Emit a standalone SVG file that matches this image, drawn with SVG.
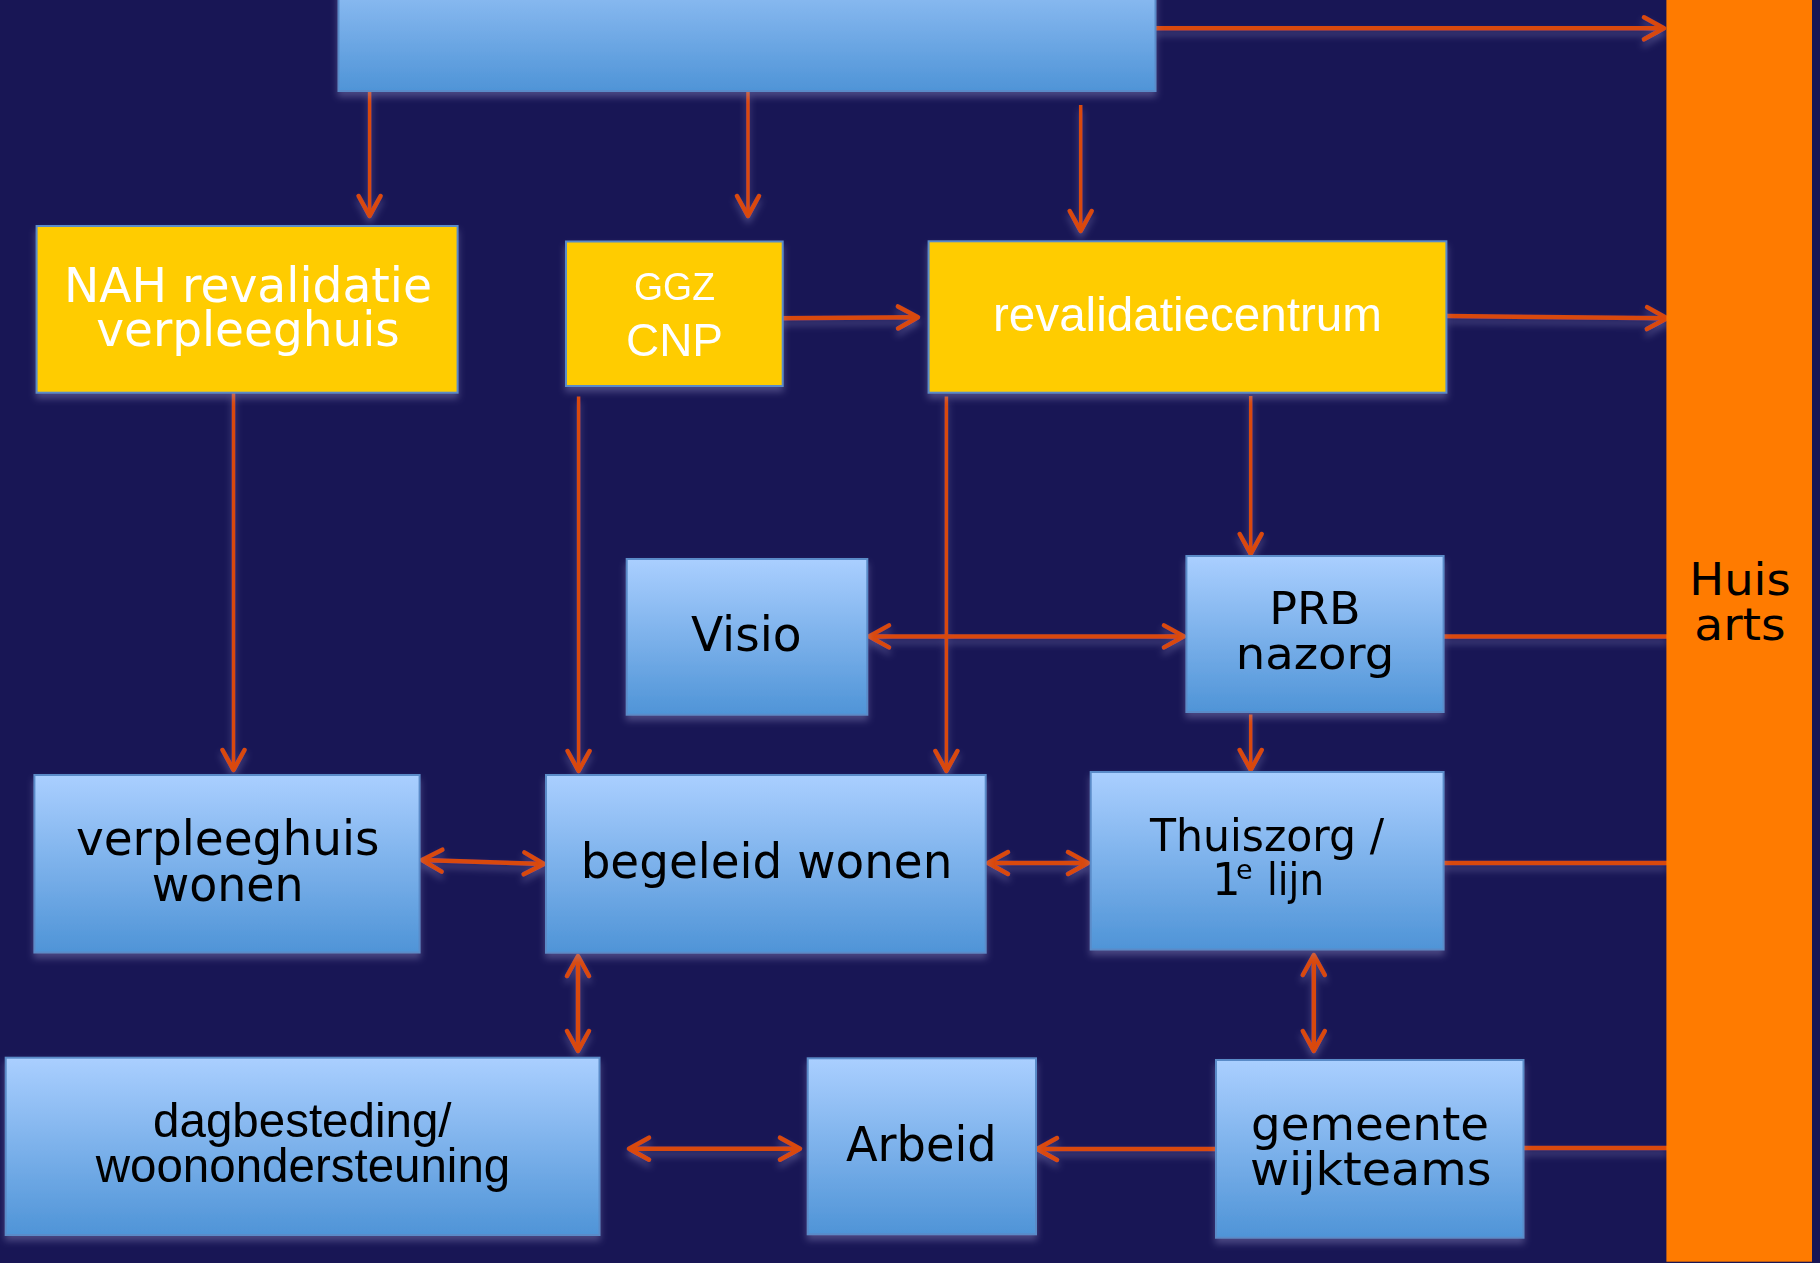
<svg xmlns="http://www.w3.org/2000/svg" width="1820" height="1263" viewBox="0 0 1820 1263">
  <style>
    .box { stroke: #5A8BC8; stroke-width: 2; }
    .blue { fill: url(#gBlue); }
    .yellow { fill: #FFCC00; }
    .t { font-family: "DejaVu Sans", sans-serif; text-anchor: middle; }
    .ta { font-family: "Liberation Sans", Arial, sans-serif; text-anchor: middle; }
    .w { fill: #FFFFFF; }
    .k { fill: #000000; }
    .c { stroke: #D9480B; stroke-width: 4.5; fill: none; }
    .cthin { stroke: #D9480B; stroke-width: 3.5; fill: none; }
    .end { marker-end: url(#ah); }
    .both { marker-start: url(#ah); marker-end: url(#ah); }
  </style>
  <defs>
    <linearGradient id="gBlue" x1="0" y1="0" x2="0" y2="1">
      <stop offset="0" stop-color="#AACFFF"/>
      <stop offset="1" stop-color="#4F94D7"/>
    </linearGradient>
    <filter id="sh" filterUnits="userSpaceOnUse" x="-20" y="-80" width="1860" height="1400">
      <feGaussianBlur in="SourceAlpha" stdDeviation="3.5" result="b"/>
      <feOffset in="b" dy="5" result="o"/>
      <feFlood flood-color="#A8A4D8" flood-opacity="0.35"/>
      <feComposite in2="o" operator="in" result="s"/>
      <feMerge>
        <feMergeNode in="s"/>
        <feMergeNode in="SourceGraphic"/>
      </feMerge>
    </filter>
    <marker id="ah" markerUnits="userSpaceOnUse" markerWidth="40" markerHeight="40" refX="0" refY="0" orient="auto-start-reverse" overflow="visible">
      <path d="M-20,-11 L0,0 L-20,11" fill="none" stroke="#D9480B" stroke-width="4.5" stroke-linecap="round" stroke-linejoin="round"/>
    </marker>
  </defs>

  <rect x="0" y="0" width="1820" height="1263" fill="#181655"/>

  <g id="connectors" filter="url(#sh)">
    <line class="cthin end" x1="369.6" y1="91" x2="369.6" y2="216"/>
    <line class="cthin end" x1="748" y1="91" x2="748" y2="216"/>
    <line class="cthin end" x1="1080.7" y1="105" x2="1080.7" y2="231"/>
    <line class="c end" x1="1156" y1="28.3" x2="1664" y2="28.3"/>
    <line class="c end" x1="778" y1="318.3" x2="918" y2="317.3"/>
    <line class="c end" x1="1447" y1="316" x2="1667" y2="318.3"/>
    <line class="cthin end" x1="233.5" y1="393" x2="233.5" y2="770"/>
    <line class="cthin end" x1="578.6" y1="396.5" x2="578.6" y2="771"/>
    <line class="cthin end" x1="946.4" y1="396.5" x2="946.4" y2="771"/>
    <line class="cthin end" x1="1250.7" y1="396" x2="1250.7" y2="554"/>
    <line class="c both" x1="869" y1="636.4" x2="1184" y2="636.4"/>
    <line class="c" x1="1443" y1="636.4" x2="1667" y2="636.4"/>
    <line class="cthin end" x1="1250.7" y1="714.5" x2="1250.7" y2="770"/>
    <line class="c both" x1="422" y1="860" x2="544" y2="864"/>
    <line class="c both" x1="988" y1="863" x2="1088" y2="863"/>
    <line class="c" x1="1443" y1="863" x2="1667" y2="863"/>
    <line class="c both" x1="578" y1="956" x2="578" y2="1051"/>
    <line class="c both" x1="1313.8" y1="955" x2="1313.8" y2="1051"/>
    <line class="c both" x1="629" y1="1148.7" x2="800" y2="1148.7"/>
    <line class="c end" x1="1226" y1="1149" x2="1037" y2="1149"/>
    <line class="c" x1="1523" y1="1148" x2="1667" y2="1148"/>
  </g>

  <g id="node-top" filter="url(#sh)">
    <rect class="box blue" x="338.5" y="-60" width="817" height="151"/>
  </g>

  <g id="node-huisarts">
    <rect x="1666.4" y="-10" width="145.6" height="1271.7" fill="#FF7B00"/>
    <text class="t k" font-size="45" x="1740" y="595" textLength="101.4" lengthAdjust="spacingAndGlyphs">Huis</text>
    <text class="t k" font-size="45" x="1740" y="640" textLength="91.4" lengthAdjust="spacingAndGlyphs">arts</text>
  </g>

  <g id="node-nah" filter="url(#sh)">
    <rect class="box yellow" x="36.6" y="226" width="421" height="166.7"/>
    <text class="t w" font-size="48" x="248" y="301.7" textLength="368" lengthAdjust="spacingAndGlyphs">NAH revalidatie</text>
    <text class="t w" font-size="48" x="248" y="345.7" textLength="303.5" lengthAdjust="spacingAndGlyphs">verpleeghuis</text>
  </g>

  <g id="node-ggz" filter="url(#sh)">
    <rect class="box yellow" x="566" y="241.5" width="216.7" height="144.5"/>
    <text class="ta w" font-size="38" x="674.5" y="300" textLength="81" lengthAdjust="spacingAndGlyphs">GGZ</text>
    <text class="ta w" font-size="46" x="674.5" y="356" textLength="97" lengthAdjust="spacingAndGlyphs">CNP</text>
  </g>

  <g id="node-revalidatiecentrum" filter="url(#sh)">
    <rect class="box yellow" x="928.6" y="241.3" width="517.8" height="151.4"/>
    <text class="ta w" font-size="48" x="1187.5" y="330.5" textLength="389" lengthAdjust="spacingAndGlyphs">revalidatiecentrum</text>
  </g>

  <g id="node-visio" filter="url(#sh)">
    <rect class="box blue" x="626.7" y="559" width="240.6" height="155.7"/>
    <text class="t k" font-size="48" x="746.3" y="651" textLength="110.7" lengthAdjust="spacingAndGlyphs">Visio</text>
  </g>

  <g id="node-prb" filter="url(#sh)">
    <rect class="box blue" x="1186.4" y="556" width="257.2" height="156"/>
    <text class="t k" font-size="45" x="1315" y="624" textLength="91.4" lengthAdjust="spacingAndGlyphs">PRB</text>
    <text class="t k" font-size="45" x="1315" y="669" textLength="158.6" lengthAdjust="spacingAndGlyphs">nazorg</text>
  </g>

  <g id="node-verpleeghuis-wonen" filter="url(#sh)">
    <rect class="box blue" x="34.4" y="775" width="385.2" height="177.5"/>
    <text class="t k" font-size="48" x="227.7" y="854.5" textLength="303.6" lengthAdjust="spacingAndGlyphs">verpleeghuis</text>
    <text class="t k" font-size="48" x="227.7" y="900.5" textLength="151.8" lengthAdjust="spacingAndGlyphs">wonen</text>
  </g>

  <g id="node-begeleid-wonen" filter="url(#sh)">
    <rect class="box blue" x="546" y="775" width="439.7" height="177.7"/>
    <text class="t k" font-size="48" x="766.5" y="877.7" textLength="371.7" lengthAdjust="spacingAndGlyphs">begeleid wonen</text>
  </g>

  <g id="node-thuiszorg" filter="url(#sh)">
    <rect class="box blue" x="1090.7" y="772" width="352.9" height="177.5"/>
    <text class="t k" font-size="45" x="1267" y="850.7" textLength="234" lengthAdjust="spacingAndGlyphs">Thuiszorg /</text>
    <text class="k" font-family="DejaVu Sans, sans-serif" font-size="45" y="894.7"><tspan x="1212">1</tspan><tspan x="1236" dy="-16" font-size="27">e</tspan><tspan x="1267" dy="16" textLength="57" lengthAdjust="spacingAndGlyphs">lijn</tspan></text>
  </g>

  <g id="node-dagbesteding" filter="url(#sh)">
    <rect class="box blue" x="5.7" y="1057.7" width="593.8" height="177.3"/>
    <text class="ta k" font-size="47.5" x="302.3" y="1136.7" textLength="298.5" lengthAdjust="spacingAndGlyphs">dagbesteding/</text>
    <text class="ta k" font-size="47.5" x="303" y="1181.7" textLength="414.5" lengthAdjust="spacingAndGlyphs">woonondersteuning</text>
  </g>

  <g id="node-arbeid" filter="url(#sh)">
    <rect class="box blue" x="807.7" y="1058.3" width="228.3" height="176"/>
    <text class="t k" font-size="48" x="921.3" y="1161" textLength="150.7" lengthAdjust="spacingAndGlyphs">Arbeid</text>
  </g>

  <g id="node-gemeente" filter="url(#sh)">
    <rect class="box blue" x="1216" y="1060" width="307.5" height="177.7"/>
    <text class="t k" font-size="47" x="1370" y="1140" textLength="238" lengthAdjust="spacingAndGlyphs">gemeente</text>
    <text class="t k" font-size="47" x="1370.8" y="1185" textLength="241.6" lengthAdjust="spacingAndGlyphs">wijkteams</text>
  </g>
</svg>
